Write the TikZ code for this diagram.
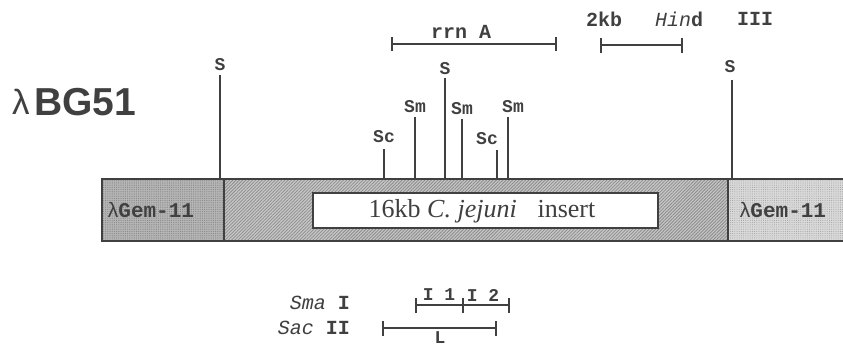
\documentclass[tikz,border=0pt]{standalone}
\usepackage{fontspec}
\setmainfont{Liberation Serif}
\newfontfamily\monof{Liberation Mono}
\newfontfamily\sansf{Liberation Sans}
\usetikzlibrary{patterns.meta}
\definecolor{ink}{gray}{0.25}
\tikzset{
  site/.style={font=\monof\bfseries\fontsize{18}{20}\selectfont, text=ink, inner sep=0pt},
  blab/.style={font=\monof\fontsize{20}{22}\selectfont, text=ink, inner sep=0pt},
  sline/.style={draw=ink, line width=1.2pt},
  sbar/.style={draw=ink, line width=1.1pt},
  gembox/.style={draw=ink, line width=1.8pt},
  gemtext/.style={inner sep=0pt, text=ink, font=\monof\bfseries\fontsize{21}{22}\selectfont},
}
\begin{document}
\begin{tikzpicture}[x=1pt,y=-1pt]
\useasboundingbox[fill=white] (0,0) rectangle (843,348);

% title
\node[anchor=west, inner sep=0pt, text=ink] (title) at (12,102)
  {\sansf\fontsize{39}{40}\selectfont\raisebox{0.02em}{\fontsize{35}{36}\selectfont λ}\hspace{0.12em}\bfseries BG51};

% bar
\begin{scope}
\clip (90,170) rectangle (843,250);
\path[fill=gray!58] (102,179) rectangle (224,241);
\path[pattern={Dots[distance=2.2pt,radius=0.6pt]}, pattern color=gray!95] (102,179) rectangle (224,241);
\path[fill=gray!45] (224,179) rectangle (728,241);
\path[pattern={Lines[angle=45,distance=2.3pt,line width=0.8pt]}, pattern color=gray!90] (224,179) rectangle (728,241);
\path[fill=gray!30] (728,179) rectangle (850,241);
\path[pattern={Dots[distance=2.2pt,radius=0.5pt]}, pattern color=gray!75] (728,179) rectangle (850,241);
\node[gembox, minimum width=122pt, minimum height=62pt, inner sep=0pt] (leftbox) at (163,210) {};
\node[gembox, minimum width=504pt, minimum height=62pt, inner sep=0pt] (midbox) at (476,210) {};
\node[gembox, minimum width=122pt, minimum height=62pt, inner sep=0pt] (rightbox) at (789,210) {};
\end{scope}

\node[draw=ink, line width=1.6pt, fill=white, minimum width=345pt, minimum height=35pt, inner sep=0pt] (insert) at (485.5,210.5) {};
\node[inner sep=0pt, text=ink, font=\fontsize{26}{28}\selectfont] (ins) at (482,211)
  {16kb \textit{C. jejuni}\hspace{0.55em} insert};

\node[gemtext] (gemL) at (151,210) {{\sansf\mdseries λ}Gem-11};
\node[gemtext] (gemR) at (783,210) {{\sansf\mdseries λ}Gem-11};

% restriction sites
\foreach \nm/\x/\t/\lx/\ly/\txt in {
  s1/220/75/220/65/S, c1/384/149/384/137/Sc, m1/415/117/415/107/Sm,
  s2/445/78/445/69/S, m2/462/119/462/109/Sm, c2/497/150/487/139/Sc,
  m3/508/117/513/107/Sm, s3/732/80/730/67/S}{
  \coordinate (t\nm) at (\x,\t);
  \coordinate (b\nm) at (\x,179);
  \node[site] (l\nm) at (\lx,\ly) {\txt};
  \draw[sline] (t\nm) -- (b\nm);
}

% rrn A
\coordinate (rA) at (392,44);
\coordinate (rB) at (556,44);
\node[site, font=\monof\bfseries\fontsize{20}{22}\selectfont] (rrn) at (461,32) {rrn A};
\draw[sbar] (rA) -- (rB);
\draw[sbar] ([yshift=-7pt]rA) -- ([yshift=7pt]rA);
\draw[sbar] ([yshift=-7pt]rB) -- ([yshift=7pt]rB);

% scale bar
\coordinate (kA) at (601,45);
\coordinate (kB) at (682,45);
\draw[sbar] (kA) -- (kB);
\draw[sbar] ([yshift=-8pt]kA) -- ([yshift=7pt]kA);
\draw[sbar] ([yshift=-8pt]kB) -- ([yshift=7pt]kB);
\node[site, font=\monof\bfseries\fontsize{20}{22}\selectfont] (kb) at (604,19) {2kb};
\node[site, font=\monof\bfseries\fontsize{20}{22}\selectfont] (hind) at (679,19) {{\mdseries\itshape Hin}d};
\node[site, font=\monof\bfseries\fontsize{20}{22}\selectfont] (h3) at (755,19) {III};

% bottom maps
\node[blab, anchor=east] (sma) at (350,303) {\textit{Sma} \textbf{I}};
\node[blab, anchor=east] (sac) at (350,328) {\textit{Sac} \textbf{II}};

\coordinate (a1) at (416,305);
\coordinate (a2) at (463,305);
\coordinate (a3) at (509,305);
\draw[sbar] (a1) -- (a3);
\foreach \p in {a1,a2,a3} \draw[sbar] ([yshift=-8pt]\p) -- ([yshift=7pt]\p);
\node[site, font=\monof\bfseries\fontsize{18}{20}\selectfont] (i1) at (439,295) {I 1};
\node[site, font=\monof\bfseries\fontsize{18}{20}\selectfont] (i2) at (483,295) {I 2};

\coordinate (c1) at (383,328);
\coordinate (c2) at (496,328);
\draw[sbar] (c1) -- (c2);
\foreach \p in {c1,c2} \draw[sbar] ([yshift=-8pt]\p) -- ([yshift=7pt]\p);
\node[site, font=\monof\bfseries\fontsize{18}{20}\selectfont] (L) at (440,338) {L};
\end{tikzpicture}
\end{document}
